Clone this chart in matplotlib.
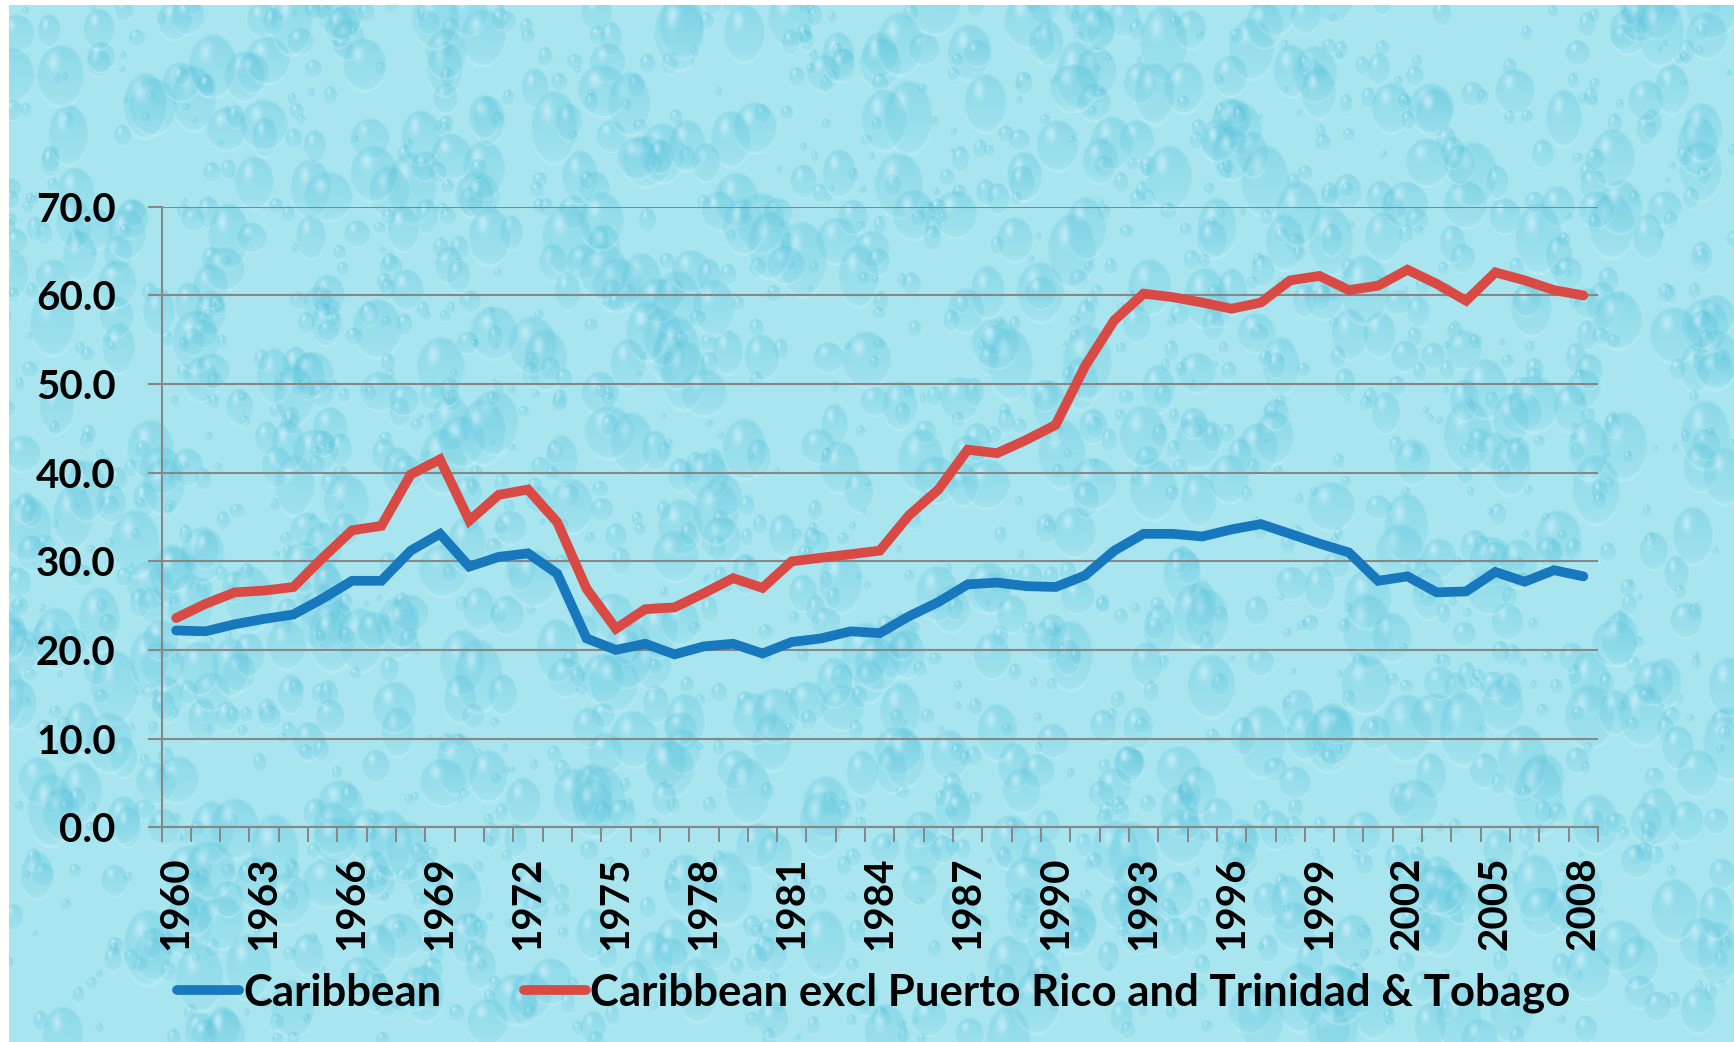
import numpy as np
import matplotlib.pyplot as plt
from matplotlib.ticker import FixedLocator, FormatStrFormatter

# Series, 1960-2008
years = list(range(1960, 2009))
caribbean = [22.2, 22.1, 22.9, 23.5, 24.0, 25.8, 27.8, 27.8, 31.2, 33.1,
             29.4, 30.5, 30.9, 28.6, 21.3, 20.0, 20.7, 19.5, 20.4, 20.7,
             19.6, 20.9, 21.3, 22.1, 21.9, 23.8, 25.4, 27.4, 27.6, 27.2,
             27.1, 28.4, 31.2, 33.1, 33.1, 32.8, 33.6, 34.2, 33.1, 32.0,
             31.0, 27.8, 28.3, 26.5, 26.6, 28.8, 27.7, 29.0, 28.3]
caribbean_excl = [23.6, 25.2, 26.5, 26.7, 27.1, 30.4, 33.5, 34.0, 39.8, 41.5,
                  34.6, 37.5, 38.1, 34.4, 26.9, 22.4, 24.6, 24.8, 26.4, 28.1,
                  27.0, 30.0, 30.4, 30.8, 31.2, 35.2, 38.1, 42.6, 42.2, 43.7,
                  45.4, 52.0, 57.2, 60.2, 59.8, 59.2, 58.5, 59.2, 61.7, 62.2,
                  60.6, 61.1, 62.9, 61.3, 59.4, 62.6, 61.7, 60.6, 60.0]
series_names = ['Caribbean', 'Caribbean excl Puerto Rico and Trinidad & Tobago']
series_colors = ['#1878BE', '#DA4A45']

plt.rcParams['font.family'] = ['Lato', 'DejaVu Sans']
plt.rcParams['font.weight'] = 'bold'

W, H = 1734, 1042
fig = plt.figure(figsize=(W / 100, H / 100), dpi=100)

# water-drop backdrop
base = np.array([0.66, 0.90, 0.94])
img = np.ones((H, W, 3)) * base
rng = np.random.default_rng(11)
dark = np.array([0.30, 0.74, 0.85])
light = np.array([0.90, 0.98, 1.0])
for _ in range(2200):
    cx, cy = rng.uniform(0, W), rng.uniform(0, H)
    rx = rng.choice([rng.uniform(3, 9), rng.uniform(9, 26)], p=[0.55, 0.45])
    ry = rx * rng.uniform(1.0, 1.6)
    x0, x1 = int(max(cx - rx - 2, 0)), int(min(cx + rx + 3, W))
    y0, y1 = int(max(cy - ry - 2, 0)), int(min(cy + ry + 3, H))
    if x1 <= x0 or y1 <= y0:
        continue
    yy, xx = np.mgrid[y0:y1, x0:x1]
    dx, dy = (xx - cx) / rx, (yy - cy) / ry
    d = dx ** 2 + dy ** 2
    inside = np.clip((1 - d) * 5, 0, 1)
    # darker teal toward the top, lighter toward the bottom
    shade = np.clip(0.5 - 0.35 * dy, 0, 1) * inside * 0.38
    patch = img[y0:y1, x0:x1]
    patch[:] = patch * (1 - shade[..., None]) + dark * shade[..., None]
    # small highlight
    hl = np.exp(-(((dx + 0.3) / 0.22) ** 2 + ((dy + 0.45) / 0.28) ** 2)) * inside * 0.5
    patch[:] = patch * (1 - hl[..., None]) + light * hl[..., None]
    # soft rim on the lower edge
    rim = np.exp(-((d - 0.9) / 0.1) ** 2) * np.clip(dy, 0, 1) * 0.3
    patch[:] = patch * (1 - rim[..., None]) + light * rim[..., None]
img[:, :9] = 1.0
img[:5, :] = 1.0

bg = fig.add_axes([0, 0, 1, 1], zorder=0)
bg.imshow(img, aspect='auto', interpolation='bilinear')
bg.axis('off')

ax = fig.add_axes([161.5 / W, 1 - 827.2 / H, (1598 - 161.5) / W, (827.2 - 206.8) / H], zorder=1)
ax.set_facecolor('none')

x = np.arange(len(years))
for vals, name, col in zip([caribbean, caribbean_excl], series_names, series_colors):
    ax.plot(x, vals, color=col, lw=7, solid_joinstyle='miter', solid_capstyle='round',
            label=name, zorder=3)

ax.set_xlim(-0.5, len(years) - 0.5)
ax.set_ylim(0, 70)
ax.set_yticks(np.arange(0, 71, 10))
ax.yaxis.set_major_formatter(FormatStrFormatter('%.1f'))
ax.grid(axis='y', color='#878787', lw=1.5, zorder=1)
ax.set_axisbelow(True)

label_idx = x[::3]
ax.set_xticks(label_idx)
ax.set_xticklabels([str(years[i]) for i in label_idx], rotation=90, va='top')
ax.xaxis.set_minor_locator(FixedLocator(np.arange(-0.5, len(years), 1.0)))
ax.tick_params(axis='x', which='major', length=0, pad=21, labelsize=29)
ax.tick_params(axis='x', which='minor', length=11, width=1.4, color='#878787')
ax.tick_params(axis='y', length=10, width=1.5, color='#878787', pad=23, labelsize=29)

for s in ['top', 'right']:
    ax.spines[s].set_visible(False)
for s in ['left', 'bottom']:
    ax.spines[s].set_color('#878787')
    ax.spines[s].set_linewidth(1.5)

fig.legend(loc='center', bbox_to_anchor=(0.504, 0.047), ncol=2, frameon=False,
           fontsize=31.5, handlelength=1.4, handletextpad=0.1, columnspacing=1.9)

fig.savefig('out.png', dpi=100)
